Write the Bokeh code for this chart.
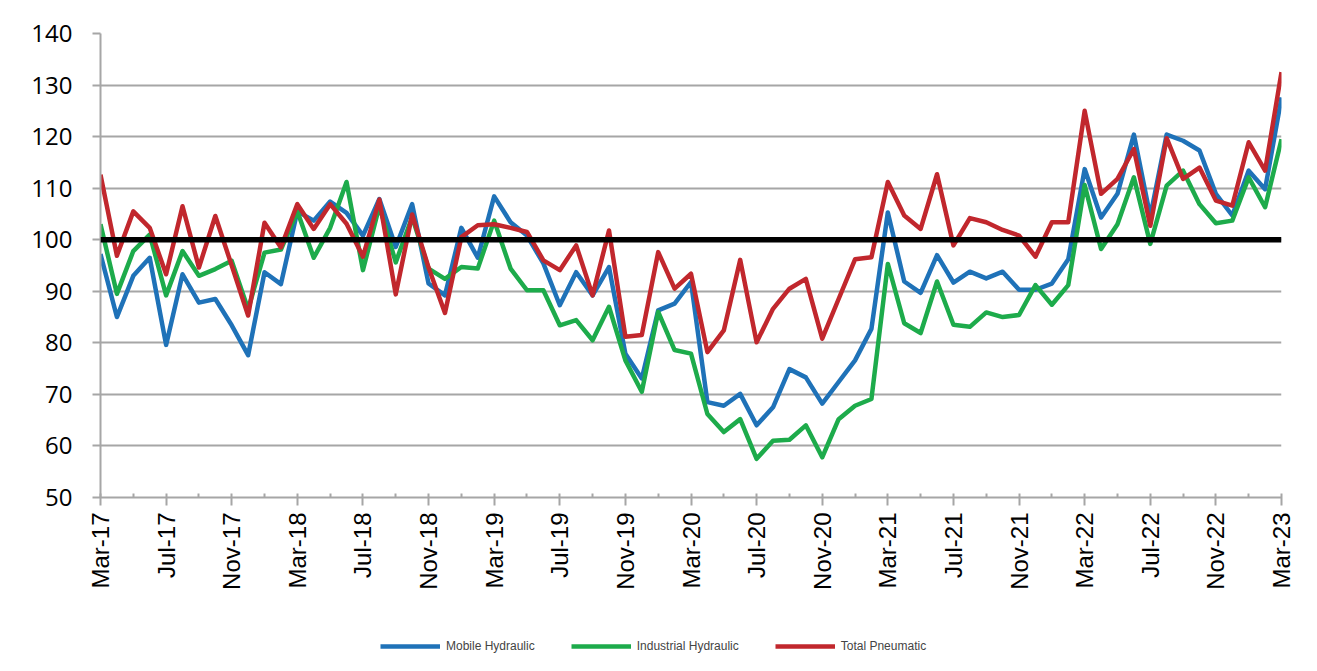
import numpy as np
from bokeh.plotting import figure
from bokeh.layouts import column
from bokeh.models import Span, Legend, LegendItem, FixedTicker
from bokeh.embed import file_html
from bokeh.resources import INLINE

# ---- data (monthly index, Mar-17 .. Mar-23) ----
tick_labels = ["Mar-17", "Jul-17", "Nov-17", "Mar-18", "Jul-18", "Nov-18", "Mar-19",
               "Jul-19", "Nov-19", "Mar-20", "Jul-20", "Nov-20", "Mar-21", "Jul-21",
               "Nov-21", "Mar-22", "Jul-22", "Nov-22", "Mar-23"]

mobile_hydraulic = [97.2, 85.0, 93.0, 96.5, 79.6, 93.3, 87.8, 88.5, 83.4, 77.6, 93.7, 91.4,
                    105.5, 103.7, 107.4, 105.2, 100.8, 107.9, 98.6, 106.9, 91.5, 89.2, 102.3, 96.5,
                    108.4, 103.4, 100.8, 95.4, 87.3, 93.7, 89.2, 94.7, 77.9, 73.1, 86.3, 87.6,
                    91.8, 68.5, 67.8, 70.1, 64.0, 67.5, 74.9, 73.3, 68.2, 72.4, 76.6, 82.7,
                    105.3, 91.9, 89.7, 97.0, 91.7, 93.8, 92.5, 93.8, 90.3, 90.3, 91.5, 96.2,
                    113.7, 104.3, 108.9, 120.4, 104.5, 120.4, 119.2, 117.3, 108.9, 104.7, 113.4, 109.8,
                    127.6]

industrial_hydraulic = [103.0, 89.5, 97.8, 101.0, 89.2, 97.8, 93.0, 94.3, 95.9, 86.5, 97.5, 98.1,
                        105.5, 96.5, 102.3, 111.2, 94.1, 106.5, 95.6, 104.4, 94.4, 92.4, 94.7, 94.4,
                        103.7, 94.4, 90.2, 90.2, 83.4, 84.4, 80.5, 87.0, 76.6, 70.5, 86.0, 78.6,
                        77.9, 66.2, 62.7, 65.2, 57.5, 61.0, 61.2, 64.0, 57.8, 65.2, 67.8, 69.1,
                        95.3, 83.8, 81.9, 91.9, 83.5, 83.1, 85.9, 85.0, 85.4, 91.2, 87.4, 91.2,
                        110.6, 98.2, 103.0, 112.1, 99.2, 110.5, 113.4, 106.9, 103.2, 103.7, 112.1, 106.3,
                        119.5]

total_pneumatic = [112.6, 96.9, 105.5, 102.3, 93.3, 106.5, 94.6, 104.6, 95.0, 85.3, 103.3, 98.5,
                   106.9, 102.1, 106.9, 103.1, 96.7, 107.8, 89.4, 104.9, 94.6, 85.8, 100.5, 102.8,
                   103.0, 102.3, 101.5, 96.0, 94.1, 98.9, 89.2, 101.8, 81.2, 81.5, 97.6, 90.5,
                   93.4, 78.2, 82.4, 96.1, 80.1, 86.6, 90.5, 92.4, 80.8, 88.5, 96.2, 96.6,
                   111.2, 104.7, 102.1, 112.7, 98.9, 104.2, 103.4, 101.9, 100.8, 96.7, 103.4, 103.4,
                   125.0, 108.9, 111.8, 117.6, 102.7, 119.7, 111.8, 114.0, 107.6, 106.6, 118.9, 113.4,
                   132.5]

baseline = 100
series_names = ["Mobile Hydraulic", "Industrial Hydraulic", "Total Pneumatic"]
colors = ["#1F72B8", "#1DAB4B", "#C1272D"]

x = list(range(len(total_pneumatic)))

p = figure(width=1308, height=610, x_range=(0, len(x) - 1), y_range=(50, 140),
           output_backend="svg", toolbar_location=None,
           min_border_left=100, min_border_right=27, min_border_top=33, min_border_bottom=113)
p.outline_line_color = None
p.background_fill_color = "white"
p.xgrid.visible = False
p.ygrid.grid_line_color = "#A6A6A6"
p.ygrid.grid_line_width = 2

p.yaxis.ticker = FixedTicker(ticks=list(range(50, 141, 10)))
p.xaxis.ticker = FixedTicker(ticks=list(range(0, len(x), 4)), minor_ticks=list(range(2, len(x), 4)))
p.xaxis.major_label_overrides = {i * 4: lab for i, lab in enumerate(tick_labels)}
p.xaxis.major_label_orientation = np.pi / 2

for ax in (p.xaxis[0], p.yaxis[0]):
    ax.axis_line_color = "#A6A6A6"
    ax.axis_line_width = 2
    ax.major_tick_line_color = "#A6A6A6"
    ax.major_tick_line_width = 2
    ax.minor_tick_line_color = "#A6A6A6"
    ax.minor_tick_line_width = 2
    ax.major_label_text_color = "black"

p.xaxis.major_tick_in = 4
p.xaxis.major_tick_out = 8
p.xaxis.minor_tick_in = 4
p.xaxis.minor_tick_out = 0
p.xaxis.major_label_standoff = 7
p.xaxis.major_label_text_font = "Liberation Sans"
p.xaxis.major_label_text_font_size = "24px"

p.yaxis.major_tick_in = 0
p.yaxis.major_tick_out = 8
p.yaxis.minor_tick_line_color = None
p.yaxis.major_label_standoff = 20
p.yaxis.major_label_text_font = "Open Sans"
p.yaxis.major_label_text_font_size = "24px"

for vals, c in zip([mobile_hydraulic, industrial_hydraulic, total_pneumatic], colors):
    p.line(x, vals, line_color=c, line_width=4.5, line_join="round")

p.add_layout(Span(location=baseline, dimension="width", line_color="black", line_width=5.5))

# ---- legend strip below the chart (keys only, no visible data) ----
lg = figure(width=1308, height=60, x_range=(0, 1), y_range=(0, 1),
            output_backend="svg", toolbar_location=None,
            min_border_left=0, min_border_right=0, min_border_top=0, min_border_bottom=0)
lg.axis.visible = False
lg.grid.visible = False
lg.outline_line_color = None

nan = float("nan")
keys = [lg.line([nan], [nan], line_color=c, line_width=4.5) for c in colors]
legend = Legend(items=[LegendItem(label=n, renderers=[r]) for n, r in zip(series_names, keys)],
                location=(280, 15), orientation="horizontal",
                glyph_width=60, glyph_height=18, label_height=18,
                label_standoff=6, spacing=36, label_text_font="Liberation Sans",
                label_text_font_size="12px", padding=0, margin=0,
                border_line_alpha=0, background_fill_alpha=0)
lg.add_layout(legend)

open("out.html", "w").write(file_html(column(p, lg, spacing=0), INLINE))
